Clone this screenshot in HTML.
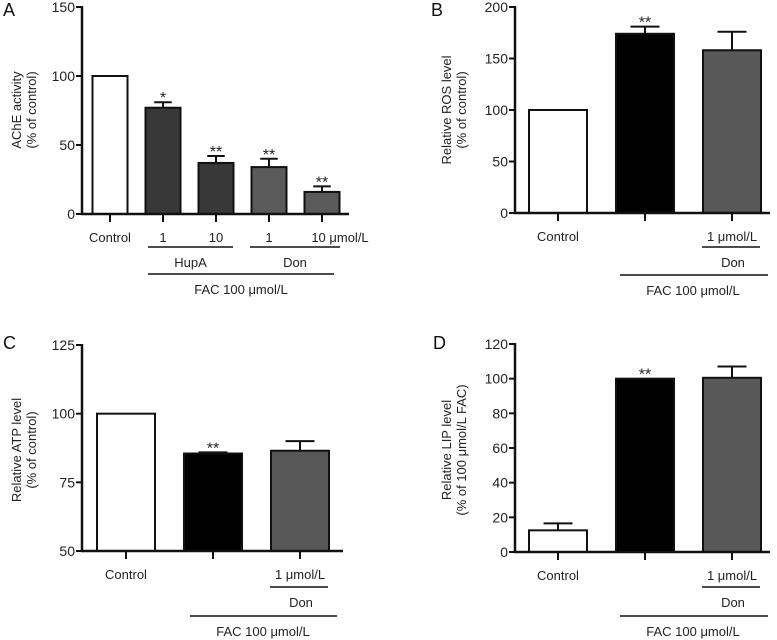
<!DOCTYPE html>
<html><head><meta charset="utf-8"><style>
html,body{margin:0;padding:0;background:#fff;}
svg{display:block;font-family:"Liberation Sans",Arial,sans-serif;}
</style></head><body>
<svg id="fig" width="777" height="640" viewBox="0 0 777 640" xmlns="http://www.w3.org/2000/svg"></svg>
<script>
// Panel A data
const aCats = ["Control","1","10","1","10 μmol/L"];
const aValues = [100, 77, 37, 34, 16];
const aErrors = [0, 4, 5, 6, 4];
const aStars = ["", "*", "**", "**", "**"];
const aTicks = [0, 50, 100, 150];
// Panel B data
const bCats = ["Control","","1 μmol/L"];
const bValues = [100, 174, 158];
const bErrors = [0, 7, 18];
const bStars = ["", "**", ""];
const bTicks = [0, 50, 100, 150, 200];
// Panel C data
const cCats = ["Control","","1 μmol/L"];
const cValues = [100, 85.5, 86.5];
const cErrors = [0, 0.4, 3.5];
const cStars = ["", "**", ""];
const cTicks = [50, 75, 100, 125];
// Panel D data
const dCats = ["Control","","1 μmol/L"];
const dValues = [12.5, 100, 100.5];
const dErrors = [4, 0, 6.5];
const dStars = ["", "**", ""];
const dTicks = [0, 20, 40, 60, 80, 100, 120];

const NS = "http://www.w3.org/2000/svg";
const svg = document.getElementById("fig");
function mk(tag, attrs, parent, text){
  const e = document.createElementNS(NS, tag);
  for (const k in attrs) e.setAttribute(k, attrs[k]);
  if (text !== undefined) e.textContent = text;
  (parent||svg).appendChild(e);
  return e;
}

function panel(o){
  const g = mk("g", {});
  
  
  const ymin = o.ticks[0], ymax = o.ticks[o.ticks.length-1];
  const y = v => o.y0 - (v - ymin) / (ymax - ymin) * (o.y0 - o.y1);
  const n = o.values.length;
  const x = i => o.c0 + i * o.step;
  const L = mk("text", {x:o.lx, y:o.ly, "font-size":18, fill:"#111"}, g, o.letter);
  
  
  for (let i=0;i<n;i++){
    const top = y(o.values[i]);
    if (o.errors[i] > 0){
      const et = y(o.values[i] + o.errors[i]);
      const el = mk("path", {d:`M${x(i)},${top} V${et} M${x(i)-o.bw*0.25},${et} H${x(i)+o.bw*0.25}`, stroke:"#111", "stroke-width":2, fill:"none"}, g);
      
      
    }
    const r = mk("rect", {x:x(i)-o.bw/2, y:top, width:o.bw, height:o.y0-top, fill:o.colors[i], stroke:"#111", "stroke-width":2}, g);
    
    
    if (o.stars[i]){
      const st = y(o.values[i] + o.errors[i]);
      const s = mk("text", {x:x(i), y:st + 1, "font-size":16, "text-anchor":"middle", fill:"#222"}, g, o.stars[i]);
      
      
    }
    mk("line", {x1:x(i), x2:x(i), y1:o.y0, y2:o.y0+8, stroke:"#111", "stroke-width":2}, g);
    if (o.cats[i]){
      const t = mk("text", {x:x(i) + (o.catShift[i]||0), y:o.y0+28, "font-size":13, "text-anchor":"middle", fill:"#222"}, g, o.cats[i]);
      
      
    }
  }
  const ax = mk("path", {d:`M${o.ax},${o.y1-1} V${o.y0} H${o.axEnd}`, stroke:"#111", "stroke-width":2.5, fill:"none"}, g);
  
  
  o.ticks.forEach(t => {
    mk("line", {x1:o.ax-6, x2:o.ax, y1:y(t), y2:y(t), stroke:"#111", "stroke-width":2}, g);
    const tl = mk("text", {x:o.ax-7, y:y(t)+5, "font-size":14, "text-anchor":"end", fill:"#222"}, g, String(t));
    
    
  });
  const yt = mk("text", {transform:`translate(${o.tx},${o.ty}) rotate(-90)`, "font-size":13, "text-anchor":"middle", fill:"#222"}, g);
  
  
  mk("tspan", {x:0, y:0}, yt, o.title[0]);
  mk("tspan", {x:0, y:15}, yt, o.title[1]);
  o.groups.forEach(gr => {
    mk("line", {x1:gr[0], x2:gr[1], y1:gr[2], y2:gr[2], stroke:"#111", "stroke-width":1.5}, g);
    const gt = mk("text", {x:gr[4] || (gr[0]+gr[1])/2, y:gr[2]+20, "font-size":13, "text-anchor":"middle", fill:"#222"}, g, gr[3]);
    
    
  });
}

panel({name:"panel-a-ache", letter:"A", lx:3, ly:16, cats:aCats, values:aValues, errors:aErrors, stars:aStars, ticks:aTicks,
  catShift:[0,0,0,0,18],
  colors:["#fff","#383838","#383838","#5a5a5a","#5a5a5a"], y0:214, y1:7, ax:82, axEnd:349, c0:110, step:53, bw:35,
  tx:21, ty:110, title:["AChE activity","(% of control)"],
  groups:[[148,233,247,"HupA"],[250,340,247,"Don"],[148,334,274,"FAC 100 μmol/L"]]});
panel({name:"panel-b-ros", letter:"B", lx:431, ly:16, cats:bCats, values:bValues, errors:bErrors, stars:bStars, ticks:bTicks,
  catShift:[0,0,0],
  colors:["#fff","#000","#585858"], y0:213, y1:7, ax:515, axEnd:770, c0:558, step:87, bw:58,
  tx:451, ty:110, title:["Relative ROS level","(% of control)"],
  groups:[[702,760,247,"Don",733],[620,768,275,"FAC 100 μmol/L",693]]});
panel({name:"panel-c-atp", letter:"C", lx:3, ly:349, cats:cCats, values:cValues, errors:cErrors, stars:cStars, ticks:cTicks,
  catShift:[0,0,0],
  colors:["#fff","#000","#585858"], y0:551, y1:345, ax:82, axEnd:343, c0:126, step:87, bw:58,
  tx:21, ty:450, title:["Relative ATP level","(% of control)"],
  groups:[[270,328,587,"Don",301],[190,337,616,"FAC 100 μmol/L",263]]});
panel({name:"panel-d-lip", letter:"D", lx:433, ly:349, cats:dCats, values:dValues, errors:dErrors, stars:dStars, ticks:dTicks,
  catShift:[0,0,0],
  colors:["#fff","#000","#585858"], y0:552, y1:344, ax:515, axEnd:770, c0:558, step:87, bw:58,
  tx:451, ty:450, title:["Relative LIP level","(% of 100 μmol/L FAC)"],
  groups:[[702,760,587,"Don",733],[620,768,616,"FAC 100 μmol/L",693]]});
</script>
</body></html>
